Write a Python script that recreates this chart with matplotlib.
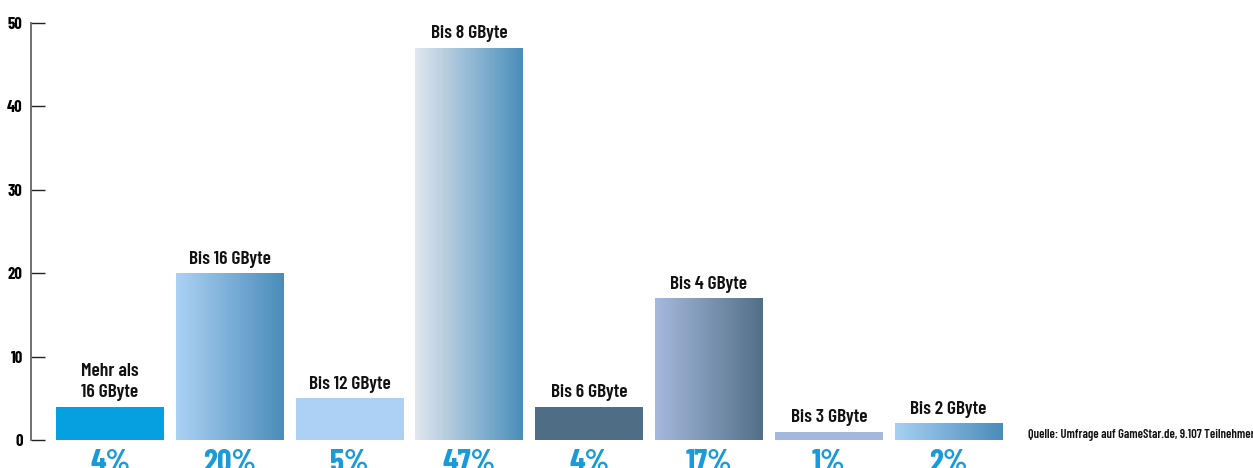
import numpy as np
import matplotlib
matplotlib.use("Agg")
import matplotlib.pyplot as plt
from matplotlib.colors import LinearSegmentedColormap

categories = ["Mehr als\n16 GByte", "Bis 16 GByte", "Bis 12 GByte", "Bis 8 GByte",
              "Bis 6 GByte", "Bis 4 GByte", "Bis 3 GByte", "Bis 2 GByte"]
values = [4, 20, 5, 47, 4, 17, 1, 2]
pct_labels = ["4%", "20%", "5%", "47%", "4%", "17%", "1%", "2%"]
yticks = [0, 10, 20, 30, 40, 50]
source = "Quelle: Umfrage auf GameStar.de, 9.107 Teilnehmer"

# colour per bar: (left, right) — identical pair means solid
bar_colors = [("#06a0e0", "#06a0e0"), ("#acd2f4", "#4a8cbb"), ("#acd1f4", "#acd1f4"),
              ("#e1e7ef", "#4a8ebb"), ("#4f6e85", "#4f6e85"), ("#a5b9de", "#536f87"),
              ("#a4b8de", "#a4b8de"), ("#a8d0f3", "#4a8cbb")]

FONT = ["Barlow Condensed", "DejaVu Sans"]
plt.rcParams["font.family"] = FONT

fig = plt.figure(figsize=(12.53, 4.68), dpi=100)
ax = fig.add_axes([31/1253, 28/468, 1 - 31/1253, 417/468])

x = np.arange(len(values))
bars = ax.bar(x, values, width=0.9, zorder=2)
for b, (c0, c1) in zip(bars, bar_colors):
    if c0 == c1:
        b.set_facecolor(c0)
    else:
        b.set_facecolor("none")
        b.set_edgecolor("none")
        cmap = LinearSegmentedColormap.from_list("g", [c0, c1])
        grad = np.linspace(0, 1, 256).reshape(1, -1)
        ax.imshow(grad, cmap=cmap, aspect="auto", zorder=2,
                  extent=[b.get_x(), b.get_x() + b.get_width(), 0, b.get_height()],
                  interpolation="bilinear")

for xi, v, lab, pct in zip(x, values, categories, pct_labels):
    ax.annotate(lab, (xi, v), xytext=(0, 4), textcoords="offset points",
                ha="center", va="bottom", fontsize=14, fontweight=600,
                color="#111111", linespacing=1.35)
    ax.annotate(pct, (xi, 0), xytext=(0, -6.5), textcoords="offset points",
                ha="center", va="top", fontsize=23, fontweight="bold",
                color="#1a9ad8", annotation_clip=False)

ax.set_xlim(-(110 - 31) / 119.8, (1253 - 110) / 119.8)
ax.set_ylim(0, 50)
ax.set_yticks(yticks)
ax.set_yticklabels([str(t) for t in yticks], fontsize=12, fontweight="bold")
ax.tick_params(axis="y", direction="in", length=10, width=1, color="#222222", pad=6)
ax.set_xticks([])
for s in ["top", "right", "bottom"]:
    ax.spines[s].set_visible(False)
ax.spines["left"].set_color("#666666")
ax.spines["left"].set_linewidth(1.3)

fig.text(1028/1253, 1 - 435/468, source, fontsize=9, fontweight=600,
         color="#111111", ha="left", va="center")

fig.savefig("out.png", dpi=100)
